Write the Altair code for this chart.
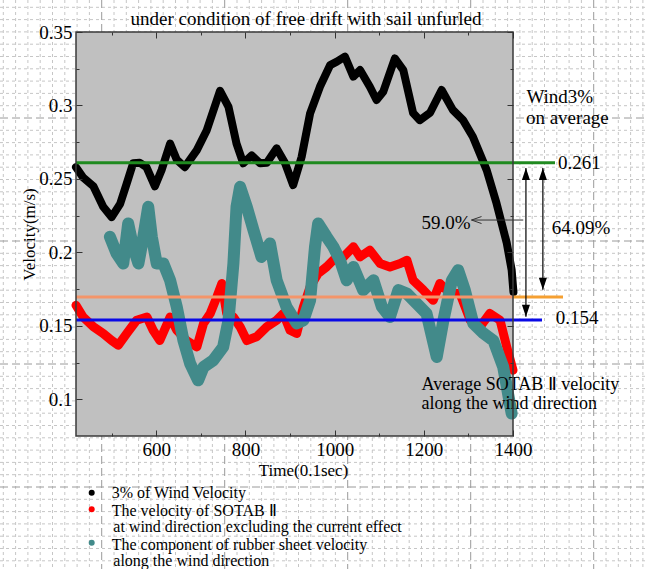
import altair as alt
import pandas as pd

# ---------------- texts ----------------
TITLE = "under condition of free drift with sail unfurled"
X_TITLE = "Time(0.1sec)"
Y_TITLE = "Velocity(m/s)"
legend_lines = [
    "3% of Wind Velocity",
    "The velocity of SOTAB \u2161",
    "at wind direction excluding the current effect",
    "The component of rubber sheet velocity",
    "along the wind direction",
]

# ---------------- data ----------------
wind_t = [420, 436, 459, 481, 500, 519, 535, 548, 563, 578, 597, 612, 631, 646, 664,
          691, 713, 743, 762, 780, 795, 814, 833, 848, 870, 889, 907, 926, 945, 967,
          990, 1005, 1023, 1042, 1057, 1079, 1094, 1109, 1135, 1154, 1176, 1191, 1214,
          1240, 1265, 1288, 1310, 1341, 1363, 1386, 1397, 1401]
wind_v = [0.258, 0.251, 0.245, 0.231, 0.224, 0.233, 0.248, 0.2606, 0.261, 0.258, 0.245,
          0.256, 0.274, 0.263, 0.258, 0.2696, 0.283, 0.310, 0.299, 0.274, 0.2606, 0.266,
          0.2606, 0.261, 0.2708, 0.2606, 0.2458, 0.265, 0.2946, 0.3127, 0.3275, 0.3298,
          0.3332, 0.3196, 0.3241, 0.3127, 0.3037, 0.3093, 0.332, 0.3241, 0.2948, 0.290,
          0.295, 0.3105, 0.297, 0.290, 0.2787, 0.256, 0.2335, 0.2063, 0.188, 0.173]

sotab_t = [420, 436, 459, 481, 500, 515, 534, 556, 579, 593, 608, 631, 646, 668, 691,
           706, 721, 736, 747, 758, 773, 788, 803, 825, 848, 870, 885, 900, 915, 930,
           945, 963, 982, 997, 1020, 1042, 1057, 1079, 1102, 1124, 1147, 1162, 1176,
           1199, 1221, 1236, 1259, 1281, 1304, 1326, 1348, 1371, 1386, 1400]
sotab_v = [0.164, 0.156, 0.1493, 0.1448, 0.140, 0.1368, 0.1448, 0.1538, 0.156, 0.147,
           0.140, 0.156, 0.147, 0.140, 0.1356, 0.1516, 0.1584, 0.1697, 0.1788, 0.1584,
           0.156, 0.1493, 0.140, 0.1425, 0.1493, 0.1538, 0.1584, 0.147, 0.1448, 0.1629,
           0.1765, 0.1856, 0.1901, 0.1947, 0.1969, 0.2038, 0.1969, 0.2015, 0.1924, 0.1901,
           0.1924, 0.1947, 0.181, 0.1743, 0.1674, 0.1788, 0.172, 0.172, 0.1538, 0.1493,
           0.1584, 0.1538, 0.1356, 0.1198]

rubber_t = [496, 511, 526, 537, 548, 560, 571, 582, 590, 601, 616, 631, 646, 661, 676,
            694, 706, 728, 750, 762, 773, 780, 788, 803, 818, 836, 855, 870, 892, 915,
            930, 945, 956, 963, 982, 997, 1012, 1027, 1042, 1064, 1087, 1106, 1124, 1143,
            1162, 1184, 1206, 1229, 1244, 1263, 1277, 1292, 1311, 1334, 1356, 1378, 1397]
rubber_v = [0.2106, 0.1993, 0.1924, 0.2197, 0.2038, 0.1924, 0.2106, 0.231, 0.2106, 0.1924,
            0.1924, 0.181, 0.1629, 0.140, 0.1243, 0.1129, 0.122, 0.1266, 0.1356, 0.1538,
            0.1924, 0.231, 0.2446, 0.231, 0.2151, 0.1969, 0.2061, 0.181, 0.1629, 0.1516,
            0.1538, 0.1674, 0.2038, 0.2197, 0.2106, 0.2038, 0.1947, 0.181, 0.1901, 0.1743,
            0.181, 0.1629, 0.156, 0.1743, 0.172, 0.1652, 0.1584, 0.1288, 0.1538, 0.181,
            0.1879, 0.1743, 0.1516, 0.1448, 0.140, 0.122, 0.0903]

wind_avg = 0.261       # green
sotab_avg = 0.154      # blue
orange_level = 0.1697  # orange

# annotation positions (data units)
ann_left = pd.DataFrame({
    "t": [1430, 1429, 1501, 1496, 1487],
    "v": [0.3059, 0.2912, 0.261, 0.1550, 0.2163],
    "label": ["Wind3%", "on average", "0.261", "0.154", "64.09%"],
})
ann_low = pd.DataFrame({
    "t": [1195, 1195],
    "v": [0.1100, 0.0968],
    "label": ["Average SOTAB \u2161 velocity", "along the wind direction"],
})
ann_right = pd.DataFrame({"t": [1305], "v": [0.2200], "label": ["59.0%"]})
varrows = pd.DataFrame({"t": [1429, 1467], "top": [0.2575, 0.2575], "bot": [0.1562, 0.1745]})
harrow = pd.DataFrame({"t0": [1423], "t1": [1307], "v": [0.2220]})

# ---------------- layout ----------------
W, H = 437, 404
LEFT, TOP = 76, 32
TOTAL_W, TOTAL_H = 646, 569
X_DOM = [420, 1400]
Y_DOM = [0.075, 0.35]
FONT = "Liberation Serif"

xs = alt.Scale(domain=X_DOM, nice=False, zero=False)
ys = alt.Scale(domain=Y_DOM, nice=False, zero=False)


def px2x(p):
    return X_DOM[0] + (p - LEFT) / W * (X_DOM[1] - X_DOM[0])


def py2y(p):
    return Y_DOM[1] - (p - TOP) / H * (Y_DOM[1] - Y_DOM[0])


# graph paper background
vk = [k for k in range(-8, 45)]
vgrid = pd.DataFrame({"gx": [px2x(101.7 + 12.3 * k) for k in vk],
                      "major": [k % 10 == 0 for k in vk]})
hk = [k for k in range(-39, 7)]
hgrid = pd.DataFrame({"gy": [py2y(487 + 12.3 * k) for k in hk],
                      "major": [k % 10 == 0 for k in hk]})


def axis_common(**kw):
    base = dict(domain=False, grid=False, tickColor="#333333", tickWidth=1, zindex=1,
                labelFlush=False)
    base.update(kw)
    return alt.Axis(**base)


maj_x = [600, 800, 1000, 1200, 1400]
min_x = [500, 700, 900, 1100, 1300]
maj_y = [0.1, 0.15, 0.2, 0.25, 0.3, 0.35]
min_y = [0.125, 0.175, 0.225, 0.275, 0.325]

ax_bottom = axis_common(orient="bottom", values=maj_x, tickSize=6, offset=-6, format="d",
                        labelFont=FONT, labelFontSize=19, labelColor="black", labelPadding=4,
                        title=X_TITLE, titleFont=FONT, titleFontSize=17,
                        titleFontWeight="normal", titleColor="black", titlePadding=3,
                        titleX=227)
ax_left = axis_common(orient="left", values=maj_y, tickSize=6, offset=-6, format=".2~f",
                      labelFont=FONT, labelFontSize=19, labelColor="black", labelPadding=4,
                      title=Y_TITLE, titleFont=FONT, titleFontSize=17,
                      titleFontWeight="normal", titleColor="black", titlePadding=0)
ax_bottom_min = axis_common(orient="bottom", values=min_x, tickSize=3, offset=-3,
                            labels=False, title=None)
ax_left_min = axis_common(orient="left", values=min_y, tickSize=3, offset=-3,
                          labels=False, title=None)
ax_top = axis_common(orient="top", values=maj_x, tickSize=6, offset=-6, labels=False, title=None)
ax_right = axis_common(orient="right", values=maj_y, tickSize=6, offset=-6, labels=False, title=None)
ax_top_min = axis_common(orient="top", values=min_x, tickSize=3, offset=-3, labels=False, title=None)
ax_right_min = axis_common(orient="right", values=min_y, tickSize=3, offset=-3, labels=False, title=None)

layers = []

# graph paper
for major, col, dash in [(False, "#c6c6c6", [3, 3]), (True, "#9a9a9a", [8, 4])]:
    layers.append(
        alt.Chart(vgrid[vgrid["major"] == major]).mark_rule(color=col, strokeDash=dash, strokeWidth=1)
        .encode(x=alt.X("gx:Q", scale=xs, axis=None), y=alt.value(-TOP), y2=alt.value(TOTAL_H - TOP))
    )
    layers.append(
        alt.Chart(hgrid[hgrid["major"] == major]).mark_rule(color=col, strokeDash=dash, strokeWidth=1)
        .encode(y=alt.Y("gy:Q", scale=ys, axis=None), x=alt.value(-LEFT), x2=alt.value(TOTAL_W - LEFT))
    )

# gray plot area
layers.append(
    alt.Chart(pd.DataFrame({"a": [0]})).mark_rect(color="#c0c0c0")
    .encode(x=alt.value(0), x2=alt.value(W), y=alt.value(0), y2=alt.value(H))
)

wind_df = pd.DataFrame({"t": wind_t, "v": wind_v})
sotab_df = pd.DataFrame({"t": sotab_t, "v": sotab_v})
rubber_df = pd.DataFrame({"t": rubber_t, "v": rubber_v})

line_kw = dict(strokeCap="round", strokeJoin="round")
layers.append(
    alt.Chart(wind_df).mark_line(color="black", strokeWidth=8, **line_kw)
    .encode(x=alt.X("t:Q", scale=xs, axis=ax_bottom), y=alt.Y("v:Q", scale=ys, axis=ax_left))
)
layers.append(
    alt.Chart(sotab_df).mark_line(color="#ff0000", strokeWidth=9, **line_kw)
    .encode(x=alt.X("t:Q", scale=xs, axis=ax_bottom_min), y=alt.Y("v:Q", scale=ys, axis=ax_left_min))
)
layers.append(
    alt.Chart(rubber_df).mark_line(color="#428a8a", strokeWidth=12, **line_kw)
    .encode(x=alt.X("t:Q", scale=xs, axis=ax_top), y=alt.Y("v:Q", scale=ys, axis=ax_right))
)

# average lines
levels = pd.DataFrame({"t0": [420], "t1": [px2x(555)], "v": [wind_avg]})
layers.append(
    alt.Chart(levels).mark_rule(color="#1f8a1f", strokeWidth=3)
    .encode(x=alt.X("t0:Q", scale=xs, axis=ax_top_min), x2="t1:Q",
            y=alt.Y("v:Q", scale=ys, axis=ax_right_min))
)
orange_in = pd.DataFrame({"t0": [420], "t1": [1400], "v": [orange_level]})
orange_out = pd.DataFrame({"t0": [1400], "t1": [px2x(563)], "v": [orange_level]})
layers.append(
    alt.Chart(orange_in).mark_rule(color="#f4956a", strokeWidth=3)
    .encode(x=alt.X("t0:Q", scale=xs, axis=None), x2="t1:Q", y=alt.Y("v:Q", scale=ys, axis=None))
)
layers.append(
    alt.Chart(orange_out).mark_rule(color="#f5a032", strokeWidth=3)
    .encode(x=alt.X("t0:Q", scale=xs, axis=None), x2="t1:Q", y=alt.Y("v:Q", scale=ys, axis=None))
)
blue = pd.DataFrame({"t0": [420], "t1": [px2x(542)], "v": [sotab_avg]})
layers.append(
    alt.Chart(blue).mark_rule(color="#0a0ae6", strokeWidth=3)
    .encode(x=alt.X("t0:Q", scale=xs, axis=None), x2="t1:Q", y=alt.Y("v:Q", scale=ys, axis=None))
)

# arrows
layers.append(
    alt.Chart(varrows).mark_rule(color="black", strokeWidth=1.2)
    .encode(x=alt.X("t:Q", scale=xs, axis=None), y=alt.Y("top:Q", scale=ys, axis=None), y2="bot:Q")
)
layers.append(
    alt.Chart(varrows).mark_point(shape="M0,0L0.67,2L-0.67,2Z", filled=True, size=144,
                                  color="black", opacity=1)
    .encode(x=alt.X("t:Q", scale=xs, axis=None), y=alt.Y("top:Q", scale=ys, axis=None))
)
layers.append(
    alt.Chart(varrows).mark_point(shape="M0,0L0.67,-2L-0.67,-2Z", filled=True, size=144,
                                  color="black", opacity=1)
    .encode(x=alt.X("t:Q", scale=xs, axis=None), y=alt.Y("bot:Q", scale=ys, axis=None))
)
layers.append(
    alt.Chart(harrow).mark_rule(color="#333333", strokeWidth=1)
    .encode(x=alt.X("t0:Q", scale=xs, axis=None), x2="t1:Q", y=alt.Y("v:Q", scale=ys, axis=None))
)
layers.append(
    alt.Chart(harrow).mark_point(shape="M2,-0.7L0,0L2,0.7", filled=False, size=100,
                                 color="#333333", strokeWidth=1, opacity=1)
    .encode(x=alt.X("t1:Q", scale=xs, axis=None), y=alt.Y("v:Q", scale=ys, axis=None))
)

# annotation texts
text_kw = dict(font=FONT, fontSize=19, color="black", baseline="middle")
layers.append(
    alt.Chart(ann_left).mark_text(align="left", **text_kw)
    .encode(x=alt.X("t:Q", scale=xs, axis=None), y=alt.Y("v:Q", scale=ys, axis=None), text="label:N")
)
layers.append(
    alt.Chart(ann_low).mark_text(align="left", font=FONT, fontSize=18, color="black", baseline="middle")
    .encode(x=alt.X("t:Q", scale=xs, axis=None), y=alt.Y("v:Q", scale=ys, axis=None), text="label:N")
)
layers.append(
    alt.Chart(ann_right).mark_text(align="right", **text_kw)
    .encode(x=alt.X("t:Q", scale=xs, axis=None), y=alt.Y("v:Q", scale=ys, axis=None), text="label:N")
)

# title
layers.append(
    alt.Chart(pd.DataFrame({"a": [0]})).mark_text(font=FONT, fontSize=19, color="black",
                                                 align="center", baseline="alphabetic")
    .encode(x=alt.value(230), y=alt.value(-7), text=alt.value(TITLE))
)

# legend
dot_colors = ["black", "#ff0000", "#428a8a"]
dot_y = [460.7, 477.3, 510.7]
for c, yy in zip(dot_colors, dot_y):
    layers.append(
        alt.Chart(pd.DataFrame({"a": [0]})).mark_circle(color=c, size=36, opacity=1)
        .encode(x=alt.value(15.7), y=alt.value(yy))
    )
text_pos = [(35.7, 460.7), (35.7, 478.7), (37.3, 495.3), (35.7, 513.0), (37.3, 528.7)]
for line, (xx, yy) in zip(legend_lines, text_pos):
    layers.append(
        alt.Chart(pd.DataFrame({"a": [0]})).mark_text(font=FONT, fontSize=16, color="black",
                                                     align="left", baseline="middle")
        .encode(x=alt.value(xx), y=alt.value(yy), text=alt.value(line))
    )

# frame
layers.append(
    alt.Chart(pd.DataFrame({"a": [0]})).mark_rect(filled=False, stroke="#3a3a3a", strokeWidth=1.5)
    .encode(x=alt.value(0), x2=alt.value(W), y=alt.value(0), y2=alt.value(H))
)

chart = (
    alt.layer(*layers)
    .resolve_axis(x="independent", y="independent")
    .properties(width=W, height=H,
                padding={"left": LEFT, "top": TOP, "right": TOTAL_W - LEFT - W,
                         "bottom": TOTAL_H - TOP - H},
                autosize=alt.AutoSizeParams(type="none"),
                background="white")
    .configure_view(strokeWidth=0)
)

chart.save("out.html", embed_options={"renderer": "svg", "actions": False})
